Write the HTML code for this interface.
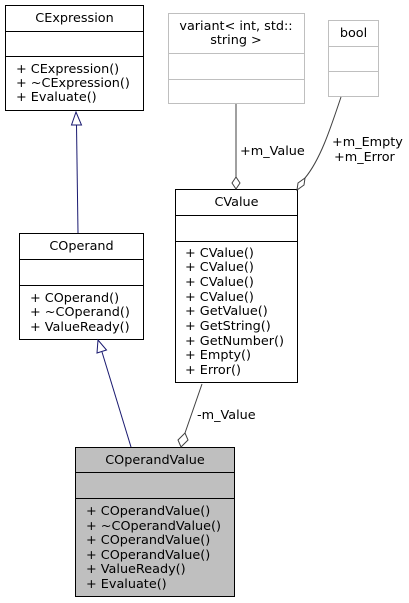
<!DOCTYPE html>
<html><head><meta charset="utf-8"><style>body{margin:0;background:#fff}svg{display:block}</style></head><body>
<svg width="409" height="603" viewBox="0 0 409 603" xmlns="http://www.w3.org/2000/svg" font-family="DejaVu Sans, Liberation Sans, sans-serif" font-size="12.8">
<g fill="#fff" stroke="#000" stroke-width="1">
<rect x="5.5" y="5.5" width="138" height="105"/>
<line x1="5.5" y1="31.5" x2="143.5" y2="31.5"/><line x1="5.5" y1="56.5" x2="143.5" y2="56.5"/>
<rect x="19.5" y="233.5" width="124" height="106"/>
<line x1="19.5" y1="259.5" x2="143.5" y2="259.5"/><line x1="19.5" y1="285.5" x2="143.5" y2="285.5"/>
<rect x="175.5" y="189.5" width="122" height="193"/>
<line x1="175.5" y1="215.5" x2="297.5" y2="215.5"/><line x1="175.5" y1="241.5" x2="297.5" y2="241.5"/>
<rect x="75.5" y="447.5" width="159" height="149" fill="#bfbfbf"/>
<line x1="75.5" y1="472.5" x2="234.5" y2="472.5"/><line x1="75.5" y1="498.5" x2="234.5" y2="498.5"/>
</g>
<g fill="#fff" stroke="#bfbfbf">
<rect x="168.5" y="13.5" width="136" height="90"/>
<line x1="168.5" y1="53.5" x2="304.5" y2="53.5"/><line x1="168.5" y1="79.5" x2="304.5" y2="79.5"/>
<rect x="328.5" y="20.5" width="50" height="76"/>
<line x1="328.5" y1="46.5" x2="378.5" y2="46.5"/><line x1="328.5" y1="71.5" x2="378.5" y2="71.5"/>
</g>
<g fill="none" stroke="#191970">
<line x1="78" y1="233" x2="76.5" y2="125"/>
<polygon points="71.5,125 81.5,125 76,112" fill="#fff"/>
<line x1="131" y1="447" x2="102" y2="352"/>
<polygon points="97,353 106.5,350 98,340" fill="#fff"/>
</g>
<g fill="none" stroke="#404040">
<line x1="236" y1="104" x2="236" y2="177"/>
<polygon points="236,177 240,183 236,189 232,183" fill="#fff"/>
<path d="M341,97 C330,130 320,160 305,178"/>
<polygon points="305,178 304,185 297,190 298,183" fill="#fff"/>
<line x1="202" y1="384" x2="185" y2="433"/>
<polygon points="185,433 188,440 181,447 178,440" fill="#fff"/>
</g>
<g fill="#000">
<text x="74.5" y="22" text-anchor="middle">CExpression</text>
<text x="16" y="73">+ CExpression()</text><text x="16" y="87">+ ~CExpression()</text><text x="16" y="101">+ Evaluate()</text>
<text x="236" y="30" text-anchor="middle">variant&lt; int, std::</text>
<text x="236" y="44" text-anchor="middle">string &gt;</text>
<text x="353.5" y="37" text-anchor="middle">bool</text>
<text x="81.5" y="250" text-anchor="middle">COperand</text>
<text x="30" y="302">+ COperand()</text><text x="30" y="316">+ ~COperand()</text><text x="30" y="331">+ ValueReady()</text>
<text x="236.5" y="206" text-anchor="middle">CValue</text>
<text x="185" y="257">+ CValue()</text><text x="185" y="271">+ CValue()</text><text x="185" y="286">+ CValue()</text><text x="185" y="301">+ CValue()</text><text x="185" y="315">+ GetValue()</text><text x="185" y="330">+ GetString()</text><text x="185" y="345">+ GetNumber()</text><text x="185" y="359">+ Empty()</text><text x="185" y="374">+ Error()</text>
<text x="155" y="464" text-anchor="middle">COperandValue</text>
<text x="86" y="515">+ COperandValue()</text><text x="86" y="530">+ ~COperandValue()</text><text x="86" y="544">+ COperandValue()</text><text x="86" y="559">+ COperandValue()</text><text x="86" y="573">+ ValueReady()</text><text x="86" y="588">+ Evaluate()</text>
<text x="240" y="155">+m_Value</text>
<text x="332" y="146">+m_Empty</text>
<text x="334" y="161">+m_Error</text>
<text x="197" y="419">-m_Value</text>
</g>
</svg>
</body></html>
